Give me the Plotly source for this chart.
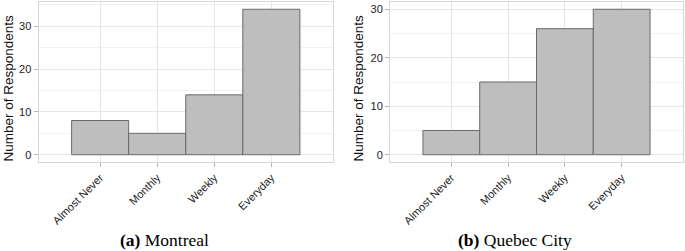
import plotly.graph_objects as go

categories = ["Almost Never", "Monthly", "Weekly", "Everyday"]
montreal_counts = [8, 5, 14, 34]
quebec_counts = [5, 15, 26, 30]
montreal_yticks = [0, 10, 20, 30]
quebec_yticks = [0, 10, 20, 30]
caption_a = ("(a)", "Montreal")
caption_b = ("(b)", "Quebec City")
y_title = "Number of Respondents"

W, H = 685, 251
BAR_FILL = "#bebebe"
BAR_LINE = "#6a6a6a"
GRID = "#e6e6e6"
MINOR = "#f2f2f2"
BORDER = "#d6d6d6"
TICKC = "#b3b3b3"
SANS = "Liberation Sans, Arial, sans-serif"
SERIF = "Liberation Serif, Times New Roman, serif"

fig = go.Figure()
fig.add_trace(go.Bar(x=categories, y=montreal_counts, xaxis="x", yaxis="y",
                     marker=dict(color=BAR_FILL, line=dict(color=BAR_LINE, width=1)),
                     width=1.0, showlegend=False, hoverinfo="skip"))
fig.add_trace(go.Bar(x=categories, y=quebec_counts, xaxis="x2", yaxis="y2",
                     marker=dict(color=BAR_FILL, line=dict(color=BAR_LINE, width=1)),
                     width=1.0, showlegend=False, hoverinfo="skip"))

ydom = [(H - 162) / H, (H - 2) / H]

def xax(dom, anchor):
    return dict(domain=dom, anchor=anchor, type="category", range=[-1.08, 4.08],
                showgrid=True, gridcolor=GRID, gridwidth=1,
                showline=True, linecolor=BORDER, linewidth=1, mirror=True,
                ticks="outside", ticklen=4, tickcolor=TICKC, tickwidth=1,
                tickangle=-45, tickfont=dict(family=SANS, size=11, color="#222"),
                zeroline=False, fixedrange=True)

def yax(rng, ticks, anchor):
    return dict(domain=ydom, anchor=anchor, range=rng, tickvals=ticks,
                showgrid=True, gridcolor=GRID, gridwidth=1,
                minor=dict(showgrid=True, dtick=5, tick0=0, gridcolor=MINOR, gridwidth=1),
                showline=True, linecolor=BORDER, linewidth=1, mirror=True,
                ticks="outside", ticklen=4, tickcolor=TICKC, tickwidth=1,
                tickfont=dict(family=SANS, size=11, color="#222"),
                zeroline=False, fixedrange=True)

fig.update_layout(
    width=W, height=H, margin=dict(l=0, r=0, t=0, b=0),
    paper_bgcolor="white", plot_bgcolor="white", bargap=0,
    xaxis=xax([38.5 / W, 333 / W], "y"),
    yaxis=yax([-1.7, 35.7], montreal_yticks, "x"),
    xaxis2=xax([390 / W, 683 / W], "y2"),
    yaxis2=yax([-1.5, 31.5], quebec_yticks, "x2"),
)

# y-axis titles
for xc, yc in [(8, 88.5), (358, 88.5)]:
    fig.add_annotation(text=y_title, x=xc / W, y=1 - yc / H, xref="paper", yref="paper",
                       textangle=-90, showarrow=False, xanchor="center", yanchor="middle",
                       font=dict(family=SANS, size=13.5, color="#111"))

# captions
for (lab, name), xc in [(caption_a, 164), (caption_b, 515)]:
    fig.add_annotation(text=f"<b>{lab}</b> {name}", x=xc / W, y=1 - 239.5 / H,
                       xref="paper", yref="paper", showarrow=False,
                       xanchor="center", yanchor="middle",
                       font=dict(family=SERIF, size=17.5, color="#000"))

fig.write_html("out.html", config={"displayModeBar": False, "staticPlot": True},
               post_script="document.body.style.margin='0px';document.body.style.overflow='hidden';")
